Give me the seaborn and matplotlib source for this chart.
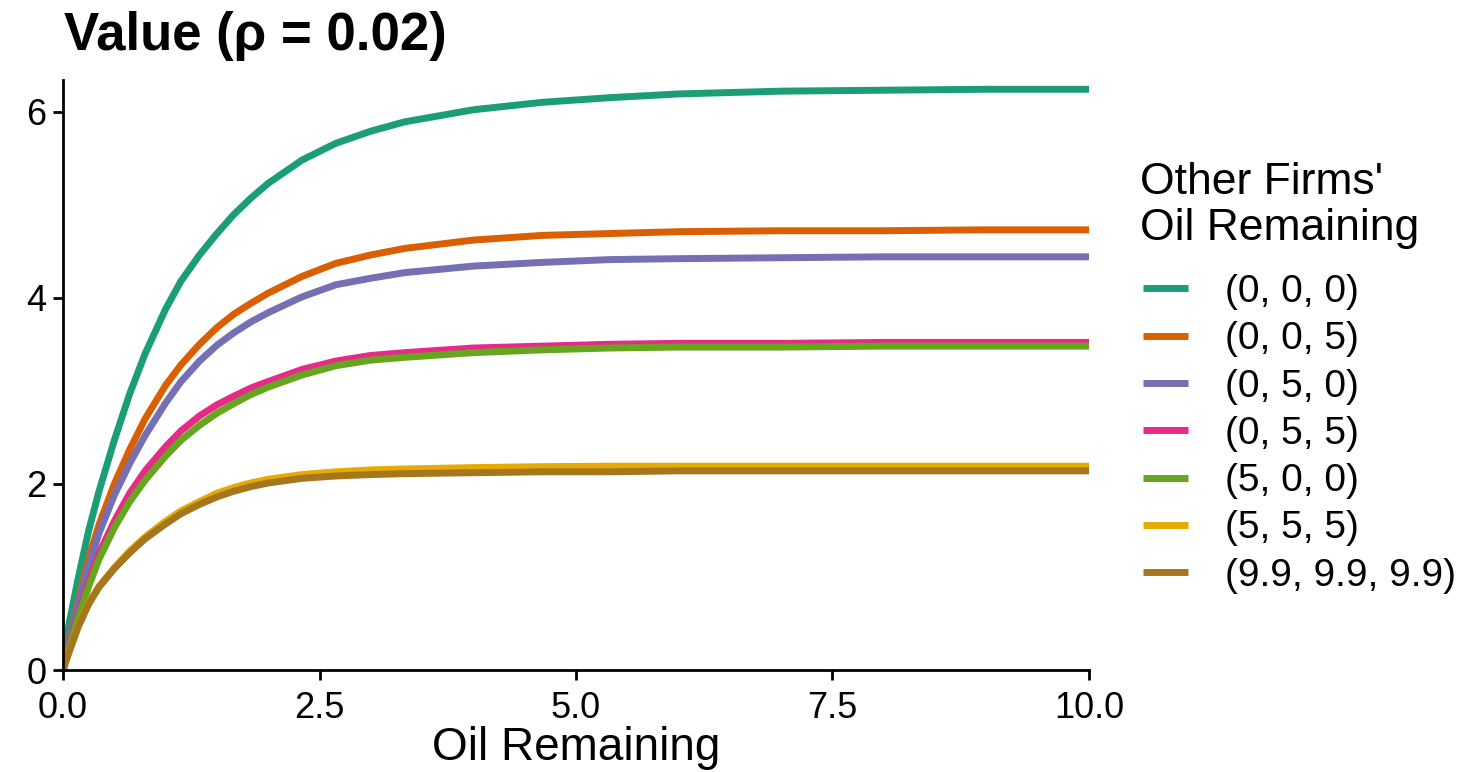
import pandas as pd
import matplotlib.pyplot as plt
import seaborn as sns

# Oil remaining (x) and value curves
oil = [0, 0.05, 0.15, 0.25, 0.35, 0.5, 0.65, 0.8, 1.0, 1.15, 1.33, 1.5, 1.66, 1.83,
       2.0, 2.33, 2.66, 3.0, 3.33, 4.0, 4.67, 5.33, 6.0, 7.0, 8.0, 9.0, 10.0]

v_000 = [0, 0.45, 1.00, 1.50, 1.92, 2.47, 2.97, 3.40, 3.88, 4.18, 4.46, 4.69, 4.89, 5.07,
         5.23, 5.48, 5.66, 5.79, 5.89, 6.02, 6.10, 6.15, 6.19, 6.22, 6.23, 6.24, 6.24]
v_005 = [0, 0.28, 0.76, 1.20, 1.56, 2.00, 2.37, 2.70, 3.06, 3.28, 3.50, 3.68, 3.82, 3.94,
         4.05, 4.23, 4.37, 4.46, 4.53, 4.62, 4.67, 4.69, 4.71, 4.72, 4.72, 4.73, 4.73]
v_050 = [0, 0.26, 0.72, 1.12, 1.47, 1.88, 2.22, 2.52, 2.87, 3.10, 3.32, 3.49, 3.62, 3.74,
         3.84, 4.01, 4.14, 4.21, 4.27, 4.34, 4.38, 4.41, 4.42, 4.43, 4.44, 4.44, 4.44]
v_055 = [0, 0.22, 0.60, 0.95, 1.25, 1.60, 1.90, 2.14, 2.40, 2.57, 2.73, 2.85, 2.94, 3.03,
         3.10, 3.23, 3.32, 3.38, 3.41, 3.46, 3.48, 3.50, 3.51, 3.51, 3.52, 3.52, 3.52]
v_500 = [0, 0.20, 0.57, 0.90, 1.19, 1.53, 1.81, 2.04, 2.30, 2.47, 2.63, 2.76, 2.86, 2.96,
         3.04, 3.17, 3.27, 3.33, 3.36, 3.41, 3.44, 3.46, 3.47, 3.47, 3.48, 3.48, 3.48]
v_555 = [0, 0.17, 0.48, 0.72, 0.90, 1.10, 1.28, 1.43, 1.60, 1.71, 1.81, 1.90, 1.96, 2.01,
         2.05, 2.10, 2.13, 2.15, 2.16, 2.175, 2.185, 2.19, 2.19, 2.19, 2.19, 2.19, 2.19]
v_999 = [0, 0.17, 0.47, 0.71, 0.89, 1.09, 1.26, 1.41, 1.57, 1.68, 1.78, 1.86, 1.92, 1.97,
         2.01, 2.06, 2.085, 2.10, 2.11, 2.12, 2.13, 2.13, 2.14, 2.14, 2.14, 2.14, 2.14]

labels = ['(0, 0, 0)', '(0, 0, 5)', '(0, 5, 0)', '(0, 5, 5)',
          '(5, 0, 0)', '(5, 5, 5)', '(9.9, 9.9, 9.9)']
series = [v_000, v_005, v_050, v_055, v_500, v_555, v_999]

frames = []
for lab, vals in zip(labels, series):
    frames.append(pd.DataFrame({'oil': oil, 'value': vals, 'others': lab}))
data = pd.concat(frames, ignore_index=True)

sns.set_theme(style='ticks')
plt.rcParams['font.family'] = ['Liberation Sans', 'DejaVu Sans']
plt.rcParams['text.color'] = 'black'

fig = plt.figure(figsize=(14.84, 7.72), dpi=100)
ax = fig.add_axes([0.0425, 0.1321, 0.6913, 0.7643])

sns.lineplot(data=data, x='oil', y='value', hue='others', hue_order=labels,
             palette='Dark2', linewidth=5, ax=ax, legend=True)
for line in ax.get_lines():
    line.set_solid_joinstyle('round')

ax.set_xlim(0, 10)
ax.set_ylim(0, 6.34)
ax.set_xticks([0, 2.5, 5, 7.5, 10])
ax.set_xticklabels(['0.0', '2.5', '5.0', '7.5', '10.0'])
ax.set_yticks([0, 2, 4, 6])
ax.set_yticklabels(['0', '2', '4', '6'])
ax.tick_params(axis='both', labelsize=26, colors='black', width=2, length=7)
ax.tick_params(axis='x', pad=8)
ax.tick_params(axis='y', pad=5)
for side in ['left', 'bottom']:
    ax.spines[side].set_linewidth(2)
    ax.spines[side].set_color('black')
sns.despine(ax=ax)

ax.set_xlabel('')
ax.set_ylabel('')
fig.text(576 / 1484, 1 - 760 / 772, 'Oil Remaining', fontsize=33,
         ha='center', va='baseline', color='black')
fig.text(64 / 1484, 1 - 50 / 772, 'Value (ρ = 0.02)', fontsize=38,
         fontweight='bold', ha='left', va='baseline', color='black')

# legend title drawn as two text lines, entries as a plain legend
fig.text(1140 / 1484, 1 - 194 / 772, "Other Firms'", fontsize=32,
         ha='left', va='baseline', color='black')
fig.text(1140 / 1484, 1 - 240 / 772, 'Oil Remaining', fontsize=32,
         ha='left', va='baseline', color='black')

handles, _ = ax.get_legend_handles_labels()
ax.get_legend().remove()
leg = fig.legend(handles, labels, loc='upper left',
                 bbox_to_anchor=(1143 / 1484, 1 - 274 / 772),
                 frameon=False, fontsize=28, handlelength=1.15,
                 handletextpad=0.95, labelspacing=0.29,
                 borderpad=0, borderaxespad=0)
for line in leg.get_lines():
    line.set_linewidth(5)
    line.set_solid_capstyle('butt')

fig.savefig('out.png', dpi=100)
